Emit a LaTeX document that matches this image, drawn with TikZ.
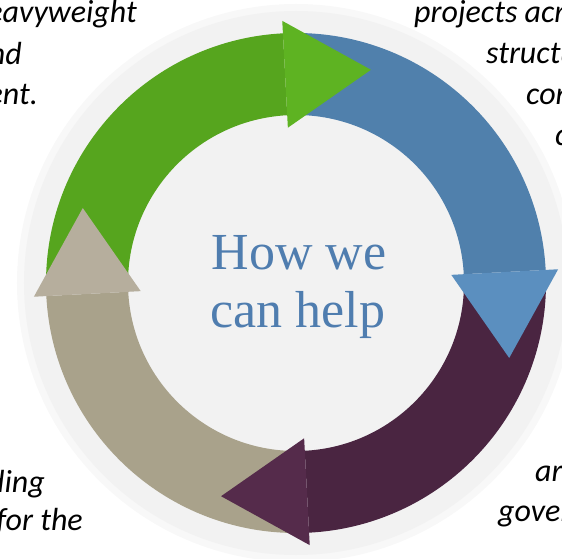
\documentclass[tikz,border=0pt]{standalone}
\usepackage{fontspec}
\setmainfont{Carlito}
\newfontfamily\titlefont{Liberation Serif}
\usetikzlibrary{calc}
\definecolor{GreenBand}{HTML}{56A51E}
\definecolor{GreenHead}{HTML}{5EB322}
\definecolor{BlueBand}{HTML}{5080AC}
\definecolor{BlueHead}{HTML}{5B8FBF}
\definecolor{PlumBand}{HTML}{4A2541}
\definecolor{PlumHead}{HTML}{552B4B}
\definecolor{TaupeBand}{HTML}{A9A28B}
\definecolor{TaupeHead}{HTML}{B6AE9D}
\definecolor{Backdrop}{HTML}{F2F2F2}
\definecolor{TitleBlue}{HTML}{4F7DAF}

\begin{document}
\begin{tikzpicture}[x=1pt,y=1pt,
    every node/.style={inner sep=0pt, font=\fontsize{32}{38}\selectfont\itshape},
    title/.style={text=TitleBlue, anchor=base, font=\titlefont\fontsize{52}{58}\selectfont}]
  \useasboundingbox (-296,-276) rectangle (266,283);
  \clip (-296,-276) rectangle (266,283);
  % backdrop disc
  \fill[Backdrop!55] (0,0) circle[radius=279];
  \fill[Backdrop] (0,0) circle[radius=272];
  % the four bands
  \foreach \s/\e/\c in {180/93/GreenBand, 90/3/BlueBand, 0/-87/PlumBand, -90/-177/TaupeBand}{
    \fill[\c] (\s:168) arc[start angle=\s, end angle=\e, radius=168]
      -- (\e:250) arc[start angle=\e, end angle=\s, radius=250] -- cycle;
  }
  % arrow heads, on top of the next band
  \foreach \b/\c in {93/GreenHead, 3/BlueHead, -87/PlumHead, -177/TaupeHead}{
    \fill[\c] (\b:155.5) -- (\b:262.5) -- ($(\b:209)+(\b-90:86)$) -- cycle;
  }
  \node[title] (howwe) at (3,13) {How we};
  \node[title] (canhelp) at (2,-45) {can help};
  % cut-off captions round the edge
  \node[anchor=base east] (tlone) at (-159,260) {eavyweight};
  \node[anchor=base east] (tltwo) at (-274,218) {nd};
  \node[anchor=base east] (tlthree) at (-258,178) {ent.};
  \node[anchor=base west] (trone) at (118,260) {projects acr};
  \node[anchor=base west] (trtwo) at (190,219) {structu};
  \node[anchor=base west] (trthree) at (230,178) {con};
  \node[anchor=base west] (trfour) at (259,137) {c};
  \node[anchor=base east] (blone) at (-251,-209) {ding};
  \node[anchor=base east] (bltwo) at (-213,-247) {for the};
  \node[anchor=base west] (brone) at (239,-198) {ar};
  \node[anchor=base west] (brtwo) at (202,-238) {gover};
\end{tikzpicture}
\end{document}
